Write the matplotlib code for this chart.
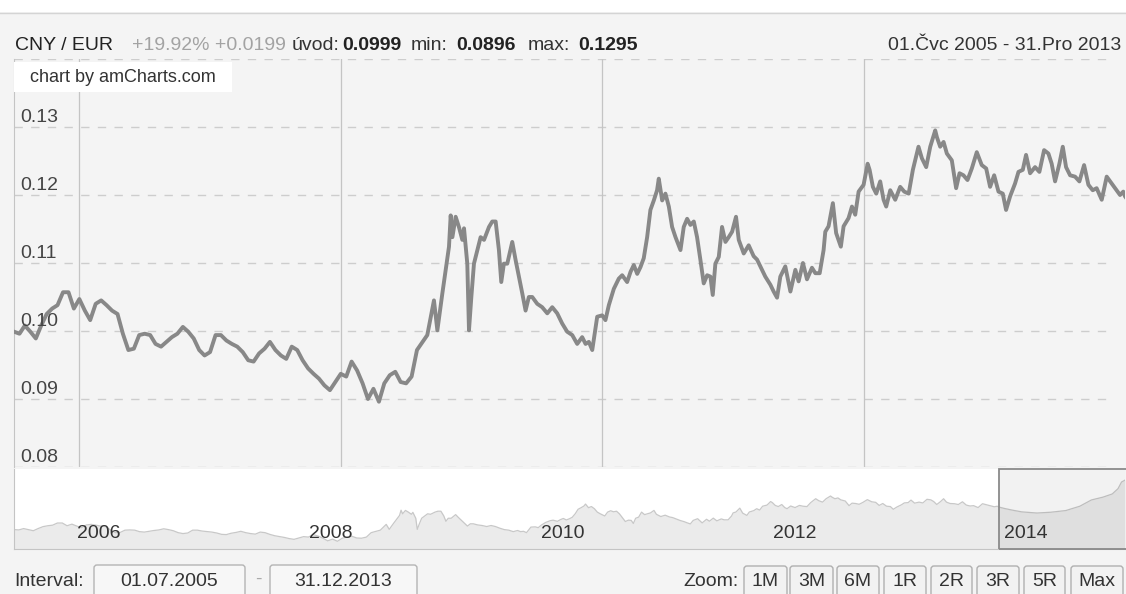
import matplotlib
matplotlib.use('Agg')
import matplotlib.pyplot as plt
from matplotlib.patches import Rectangle, FancyBboxPatch
from matplotlib.transforms import blended_transform_factory

plt.rcParams['font.family'] = ['Liberation Sans', 'DejaVu Sans']

# CNY/EUR rate, x = decimal year
years = [
    2005.500, 2005.542, 2005.583, 2005.625, 2005.667, 2005.708, 2005.750, 2005.792,
    2005.833, 2005.875, 2005.917, 2005.958, 2006.000, 2006.042, 2006.083, 2006.125,
    2006.167, 2006.208, 2006.250, 2006.292, 2006.333, 2006.375, 2006.417, 2006.458,
    2006.500, 2006.542, 2006.583, 2006.625, 2006.667, 2006.708, 2006.750, 2006.792,
    2006.833, 2006.875, 2006.917, 2006.958, 2007.000, 2007.042, 2007.083, 2007.125,
    2007.167, 2007.208, 2007.250, 2007.292, 2007.333, 2007.375, 2007.417, 2007.458,
    2007.500, 2007.542, 2007.583, 2007.625, 2007.667, 2007.708, 2007.750, 2007.792,
    2007.833, 2007.875, 2007.917, 2007.958, 2008.000, 2008.042, 2008.083, 2008.125,
    2008.167, 2008.208, 2008.250, 2008.292, 2008.333, 2008.375, 2008.417, 2008.458,
    2008.500, 2008.542, 2008.583,
    2008.662, 2008.713, 2008.739, 2008.777, 2008.828, 2008.841, 2008.854, 2008.879,
    2008.904, 2008.930, 2008.943, 2008.968, 2008.981, 2008.999, 2009.019, 2009.045,
    2009.070, 2009.096, 2009.134, 2009.159, 2009.185, 2009.210, 2009.228, 2009.248,
    2009.274, 2009.312, 2009.338, 2009.363, 2009.389, 2009.414, 2009.439, 2009.465,
    2009.503, 2009.541, 2009.580, 2009.618, 2009.656, 2009.694, 2009.732, 2009.771,
    2009.809, 2009.847, 2009.873, 2009.898, 2009.924, 2009.962, 2010.000, 2010.025,
    2010.051, 2010.089, 2010.127, 2010.153, 2010.191, 2010.217, 2010.242, 2010.268,
    2010.293, 2010.318, 2010.344, 2010.369, 2010.395, 2010.420, 2010.433, 2010.459,
    2010.484, 2010.510, 2010.535, 2010.561, 2010.599, 2010.624, 2010.650, 2010.675,
    2010.701, 2010.726, 2010.752, 2010.777, 2010.803, 2010.828, 2010.846, 2010.866,
    2010.892, 2010.917, 2010.943, 2010.968, 2010.994, 2011.024, 2011.045, 2011.083,
    2011.121,
    2011.159, 2011.185, 2011.210, 2011.248, 2011.287, 2011.312, 2011.338, 2011.363,
    2011.401, 2011.440, 2011.478, 2011.503, 2011.536, 2011.567, 2011.605, 2011.631,
    2011.664, 2011.694, 2011.707, 2011.732, 2011.765, 2011.790, 2011.826, 2011.847,
    2011.885, 2011.911, 2011.936, 2011.962, 2012.000, 2012.031, 2012.046, 2012.071,
    2012.097, 2012.127, 2012.153, 2012.173, 2012.204, 2012.242, 2012.280, 2012.311,
    2012.345, 2012.377, 2012.420, 2012.446, 2012.479, 2012.510, 2012.548, 2012.561,
    2012.586, 2012.612, 2012.637, 2012.675, 2012.708, 2012.734, 2012.764, 2012.795,
    2012.828, 2012.866, 2012.904, 2012.938, 2012.968, 2012.999, 2013.032, 2013.065,
    2013.090, 2013.121, 2013.159, 2013.185, 2013.218, 2013.243, 2013.274, 2013.312,
    2013.345, 2013.381, 2013.414, 2013.439, 2013.465, 2013.498, 2013.524, 2013.549,
    2013.580, 2013.618, 2013.651, 2013.687, 2013.720, 2013.753, 2013.783, 2013.822,
    2013.860, 2013.898, 2013.936, 2013.962, 2013.987, 2014.000,
    # only visible in the scrollbar
    2014.050, 2014.120, 2014.200, 2014.330, 2014.450, 2014.580, 2014.700, 2014.800,
    2014.900, 2014.980, 2015.030, 2015.060, 2015.090,
]
rate = [
    0.0999, 0.0996, 0.1008, 0.0999, 0.0989, 0.1008, 0.1025, 0.1033,
    0.1038, 0.1057, 0.1057, 0.1033, 0.1047, 0.1030, 0.1016, 0.1040,
    0.1045, 0.1038, 0.1030, 0.1025, 0.0996, 0.0972, 0.0974, 0.0994,
    0.0996, 0.0994, 0.0981, 0.0977, 0.0984, 0.0991, 0.0996, 0.1006,
    0.0999, 0.0989, 0.0972, 0.0964, 0.0969, 0.0994, 0.0994, 0.0986,
    0.0981, 0.0977, 0.0969, 0.0957, 0.0955, 0.0967, 0.0974, 0.0984,
    0.0972, 0.0964, 0.0959, 0.0977, 0.0972, 0.0957, 0.0945, 0.0937,
    0.0930, 0.0920, 0.0913, 0.0925, 0.0937, 0.0933, 0.0955, 0.0942,
    0.0923, 0.0900, 0.0915, 0.0896, 0.0923, 0.0935, 0.0940, 0.0925,
    0.0923, 0.0933, 0.0972,
    0.0994, 0.1045, 0.1001, 0.1055, 0.1124, 0.1170, 0.1138, 0.1168,
    0.1153, 0.1134, 0.1151, 0.1099, 0.1001, 0.1050, 0.1099, 0.1119,
    0.1138, 0.1134, 0.1153, 0.1161, 0.1161, 0.1119, 0.1072, 0.1099,
    0.1099, 0.1131, 0.1104, 0.1080, 0.1055, 0.1030, 0.1050, 0.1050,
    0.1040, 0.1035, 0.1026, 0.1035, 0.1026, 0.1011, 0.0999, 0.0994,
    0.0981, 0.0991, 0.0981, 0.0984, 0.0972, 0.1021, 0.1023, 0.1016,
    0.1038, 0.1062, 0.1077, 0.1082, 0.1072, 0.1087, 0.1097, 0.1084,
    0.1094, 0.1107, 0.1138, 0.1178, 0.1192, 0.1207, 0.1224, 0.1192,
    0.1202, 0.1183, 0.1153, 0.1138, 0.1119, 0.1153, 0.1165, 0.1156,
    0.1161, 0.1138, 0.1104, 0.1070, 0.1082, 0.1080, 0.1053, 0.1099,
    0.1109, 0.1153, 0.1131, 0.1138, 0.1146, 0.1168, 0.1134, 0.1114,
    0.1126,
    0.1110, 0.1105, 0.1095, 0.1080, 0.1068, 0.1058, 0.1049, 0.1080,
    0.1095, 0.1058, 0.1090, 0.1073, 0.1100, 0.1076, 0.1093, 0.1085,
    0.1085, 0.1119, 0.1146, 0.1154, 0.1188, 0.1144, 0.1124, 0.1154,
    0.1166, 0.1183, 0.1171, 0.1205, 0.1215, 0.1246, 0.1237, 0.1212,
    0.1202, 0.1220, 0.1193, 0.1183, 0.1207, 0.1193, 0.1212, 0.1205,
    0.1202, 0.1237, 0.1271, 0.1254, 0.1241, 0.1271, 0.1295, 0.1285,
    0.1271, 0.1278, 0.1261, 0.1251, 0.1210, 0.1232, 0.1229, 0.1222,
    0.1239, 0.1263, 0.1244, 0.1239, 0.1212, 0.1229, 0.1205, 0.1202,
    0.1178, 0.1198, 0.1217, 0.1234, 0.1237, 0.1259, 0.1232, 0.1241,
    0.1234, 0.1266, 0.1261, 0.1246, 0.1220, 0.1246, 0.1271, 0.1241,
    0.1229, 0.1227, 0.1220, 0.1244, 0.1215, 0.1207, 0.1210, 0.1193,
    0.1227, 0.1217, 0.1207, 0.1200, 0.1205, 0.1198,
    0.1185, 0.1170, 0.1155, 0.1145, 0.1152, 0.1167, 0.1205, 0.1260,
    0.1285, 0.1313, 0.1360, 0.1418, 0.1435,
]

y_ticks = [0.08, 0.09, 0.10, 0.11, 0.12, 0.13, 0.14]
y_labels = ['0.08', '0.09', '0.10', '0.11', '0.12', '0.13', '']
grid_years = [2006, 2008, 2010, 2012]
scroll_years = [2006, 2008, 2010, 2012, 2014]
view_start, view_end, data_end = 2005.5, 2014.0, 2015.09
zoom_buttons = ['1M', '3M', '6M', '1R', '2R', '3R', '5R', 'Max']

W, H = 1126, 594
BG = '#f4f4f4'


def px(l, t, r, b):
    # pixel box -> figure fraction
    return [l / W, 1 - b / H, (r - l) / W, (b - t) / H]


fig = plt.figure(figsize=(W / 100, H / 100), dpi=100, facecolor=BG)

#! main chart
ax = fig.add_axes(px(14, 59, 1125, 467))
ax.set_facecolor(BG)
for v in y_ticks:
    ax.axhline(v, xmax=0.983, color='#cdcdcd', lw=1, dashes=(6, 6), zorder=1)
for yr in grid_years:
    ax.axvline(yr, color='#c4c4c4', lw=0.9, zorder=1)
ax.plot(years, rate, color='#888888', lw=2.8, zorder=3)
ax.set_xlim(view_start, view_end)
ax.set_ylim(0.08, 0.14)
ax.set_xticks([])
ax.set_yticks([])
for s in ['top', 'right', 'bottom']:
    ax.spines[s].set_visible(False)
ax.spines['left'].set_color('#c4c4c4')
for v, lab in zip(y_ticks, y_labels):
    ax.annotate(lab, xy=(0, v), xycoords=('axes fraction', 'data'),
                xytext=(4.5, 3.6), textcoords='offset points',
                fontsize=14, color='#444444', va='baseline', zorder=5)

#! scrollbar
sx = fig.add_axes(px(14, 469, 1125, 549))
sx.set_facecolor('white')
ylo, yhi = 0.0828, 0.1533
sx.fill_between(years, rate, ylo, color='#ebebeb', lw=0)
sx.plot(years, rate, color='#c8c8c8', lw=0.9)
sx.set_xlim(view_start, data_end)
sx.set_ylim(ylo, yhi)
sx.add_patch(Rectangle((view_end, ylo), data_end - view_end, yhi - ylo,
                       facecolor='black', alpha=0.05, edgecolor='none', zorder=4))
sx.add_patch(Rectangle((view_end, ylo), data_end - view_end + 0.2, yhi - ylo,
                       facecolor='none', edgecolor='#8a8a8a', lw=1.3, zorder=5,
                       clip_on=False))
sx.set_xticks([])
sx.set_yticks([])
for s in ['top', 'right']:
    sx.spines[s].set_visible(False)
sx.spines['left'].set_color('#c4c4c4')
sx.spines['bottom'].set_color('#c4c4c4')
trans = blended_transform_factory(sx.transData, sx.transAxes)
for yr in scroll_years:
    sx.annotate(str(yr), xy=(yr, 0.2), xycoords=trans, xytext=(4, 0),
                textcoords='offset points', fontsize=14, color='#333333',
                va='center', zorder=6)

#! overlay: header, watermark, controls (pixel coords)
ov = fig.add_axes([0, 0, 1, 1], zorder=10)
ov.set_xlim(0, W)
ov.set_ylim(H, 0)
ov.axis('off')
ov.add_patch(Rectangle((0, 0), W, 12, facecolor='white', edgecolor='none'))
ov.plot([0, W], [12.5, 12.5], color='#d4d4d4', lw=1)

hy = 45
ov.text(15, hy, 'CNY / EUR', fontsize=14, color='#222222', va='center')
ov.text(132, hy, '+19.92% +0.0199', fontsize=14, color='#a3a3a3', va='center')
ov.text(292, hy, 'úvod:', fontsize=14, color='#333333', va='center')
ov.text(342, hy, '0.0999', fontsize=14, color='#222222', va='center', weight='bold')
ov.text(411, hy, 'min:', fontsize=14, color='#333333', va='center')
ov.text(456, hy, '0.0896', fontsize=14, color='#222222', va='center', weight='bold')
ov.text(528, hy, 'max:', fontsize=14, color='#333333', va='center')
ov.text(578, hy, '0.1295', fontsize=14, color='#222222', va='center', weight='bold')
ov.text(1121, hy, '01.Čvc 2005 - 31.Pro 2013', fontsize=14, color='#333333',
        va='center', ha='right')

# watermark box
ov.add_patch(Rectangle((14, 62), 218, 30, facecolor='white', edgecolor='none'))
ov.text(30, 77, 'chart by amCharts.com', fontsize=13, color='#333333', va='center')

# interval inputs
by = 581
ov.text(14, by, 'Interval:', fontsize=14, color='#333333', va='center')
for (l, r), txt in zip([(94, 245), (270, 417)], ['01.07.2005', '31.12.2013']):
    ov.add_patch(FancyBboxPatch((l, 565), r - l, 40,
                                boxstyle='round,pad=0,rounding_size=3',
                                facecolor='#f7f7f7', edgecolor='#b4b4b4', lw=1))
    ov.text((l + r) / 2, by, txt, fontsize=14, color='#333333',
            va='center', ha='center')
ov.text(258, by - 2, '-', fontsize=14, color='#aaaaaa', va='center', ha='center')

# zoom buttons
ov.text(739, by, 'Zoom:', fontsize=14, color='#333333', va='center', ha='right')
btn_x = [(744, 787), (790, 833), (837, 879), (884, 926),
         (931, 972), (977, 1019), (1024, 1065), (1071, 1123)]
for (l, r), txt in zip(btn_x, zoom_buttons):
    ov.add_patch(FancyBboxPatch((l, 566), r - l, 40,
                                boxstyle='round,pad=0,rounding_size=3',
                                facecolor='#f2f2f2', edgecolor='#b0b0b0', lw=1))
    ov.text((l + r) / 2, by + 1, txt, fontsize=14, color='#333333',
            va='center', ha='center')

fig.savefig('out.png', dpi=100, facecolor=BG)
